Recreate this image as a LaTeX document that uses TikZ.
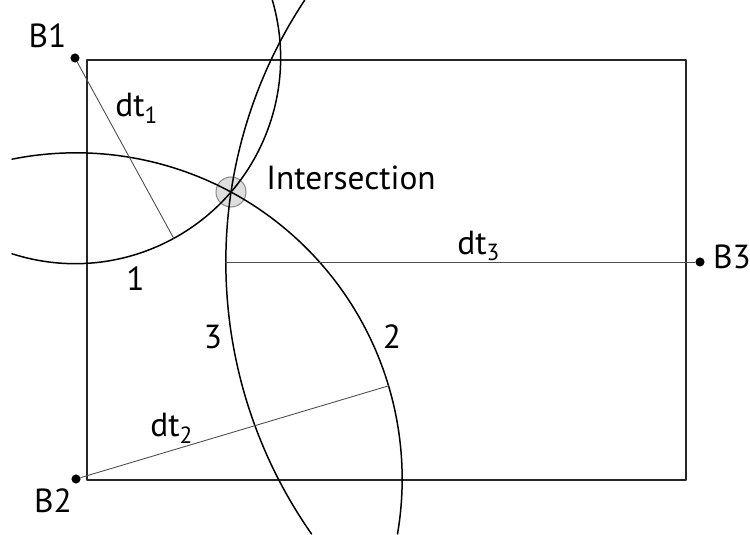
\documentclass[tikz,border=0pt]{standalone}
\usepackage{fontspec}
\setmainfont{PT Sans}
\begin{document}
\begin{tikzpicture}[x=0.02cm,y=0.02cm,line cap=round,line join=round,
  arcline/.style={line width=0.85pt},
  rayline/.style={line width=0.5pt,black!70},
  beacon/.style={circle,fill,inner sep=0pt,minimum size=5.2pt},
  lbl/.style={font=\fontsize{19}{22}\selectfont,inner sep=0pt}]
  \useasboundingbox (0,0) rectangle (750,534);
  \draw[line width=1pt,black!85] (87,54) rectangle (686,474);
  % beacons and the fix
  \node[beacon] (B1) at (75,476) {};
  \node[beacon] (B2) at (76,55) {};
  \node[beacon] (B3) at (700,272) {};
  \node[circle,draw=black!45,fill=black!13,line width=0.6pt,minimum size=0.6cm,inner sep=0pt] (I) at (231,342) {};
  % range circles
  \draw[arcline] (B1.center) ++(252.16:205.65) arc[start angle=252.16,end angle=376.38,radius=205.65];
  \draw[arcline] (B2.center) ++(101.32:326.18) arc[start angle=101.32,end angle=-9.71,radius=326.18];
  \draw[arcline] (B3.center) ++(146.46:474.2) arc[start angle=146.46,end angle=215.0,radius=474.2];
  % ranges
  \path (B1.center) ++(-61.3:205.65) coordinate (R1);
  \path (B2.center) ++(16.6:326.18) coordinate (R2);
  \path (B3.center) ++(180:474.2) coordinate (R3);
  \draw[rayline] (B1) -- (R1);
  \draw[rayline] (B2) -- (R2);
  \draw[rayline] (B3) -- (R3);
  % labels
  \node[lbl] (lB1) at (47.5,498) {B1};
  \node[lbl] (lB2) at (53,33) {B2};
  \node[lbl] (lB3) at (732,277) {B3};
  \node[lbl,anchor=west] (lI) at (266,356.2) {Intersection};
  \node[lbl,anchor=base west] (ld1) at (115,417) {dt\textsubscript{1}};
  \node[lbl,anchor=base west] (ld2) at (150,97) {dt\textsubscript{2}};
  \node[lbl,anchor=base west] (ld3) at (457,279) {dt\textsubscript{3}};
  \node[lbl] (l1) at (135.5,255.5) {1};
  \node[lbl] (l2) at (392,197) {2};
  \node[lbl] (l3) at (213,196.5) {3};
\end{tikzpicture}
\end{document}
